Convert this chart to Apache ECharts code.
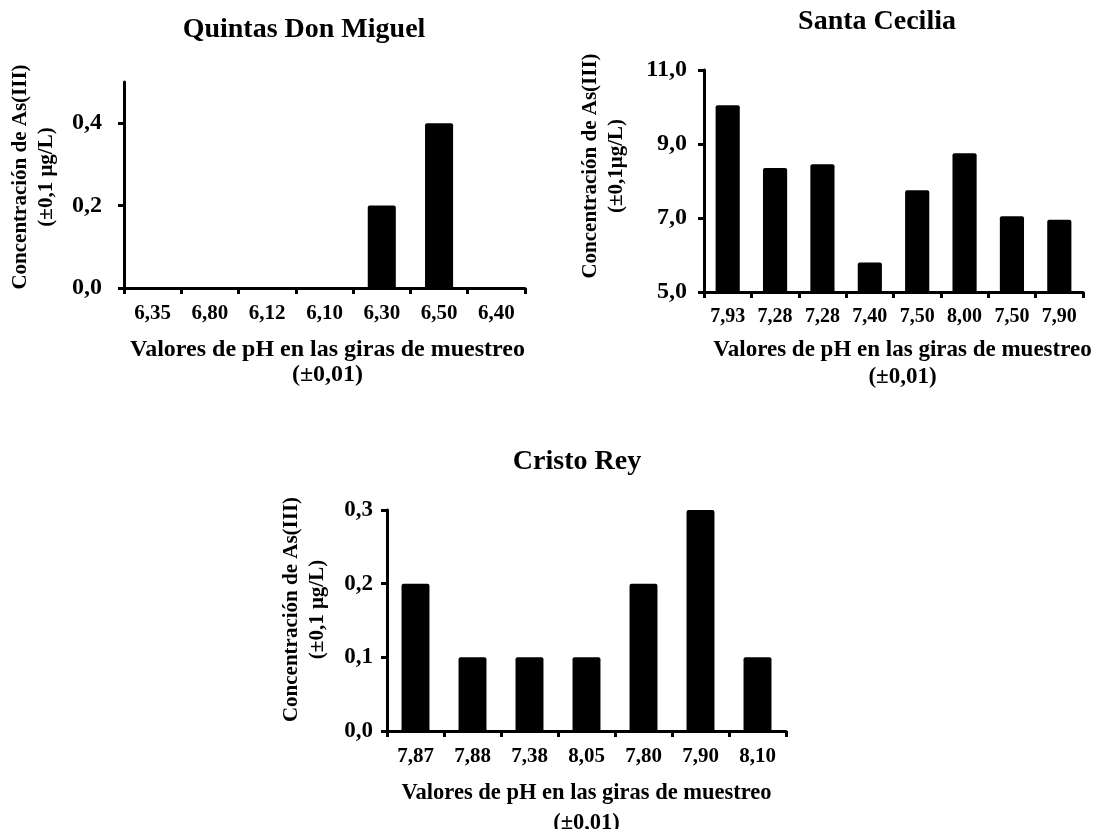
<!DOCTYPE html>
<html>
<head>
<meta charset="utf-8">
<script src="https://cdn.jsdelivr.net/npm/echarts@6/dist/echarts.min.js"></script>
<style>
  html, body { margin: 0; padding: 0; background: #fff; }
  #chart { width: 1114px; height: 829px; }
</style>
</head>
<body>
<div id="chart"></div>
<script>
// pH of each sampling trip (category labels) and As(III) concentration per site
const quintasPH = ['6,35', '6,80', '6,12', '6,10', '6,30', '6,50', '6,40'];
const quintasAs = [0, 0, 0, 0, 0.2, 0.4, 0];
const quintasTicks = [0, 0.2, 0.4];

const ceciliaPH = ['7,93', '7,28', '7,28', '7,40', '7,50', '8,00', '7,50', '7,90'];
const ceciliaAs = [10.05, 8.35, 8.45, 5.8, 7.75, 8.75, 7.05, 6.95];
const ceciliaTicks = [5, 7, 9, 11];

const cristoPH = ['7,87', '7,88', '7,38', '8,05', '7,80', '7,90', '8,10'];
const cristoAs = [0.2, 0.1, 0.1, 0.1, 0.2, 0.3, 0.1];
const cristoTicks = [0, 0.1, 0.2, 0.3];

const titles = ['Quintas Don Miguel', 'Santa Cecilia', 'Cristo Rey'];
const xName = 'Valores de pH en las giras de muestreo\n(±0,01)';
const yNames = ['Concentración de As(III)\n(±0,1 μg/L)', 'Concentración de As(III)\n(±0,1μg/L)', 'Concentración de As(III)\n(±0,1 μg/L)'];

const FONT = '"Liberation Serif", "Times New Roman", serif';
const comma = v => v.toFixed(1).replace('.', ',');

function xAxis(gridIndex, data, nameGap, nameSize, lineHeight, nameOffset, labelSize) {
  return {
    type: 'category', gridIndex, data,
    name: xName, nameLocation: 'middle', nameGap,
    nameTextStyle: { fontFamily: FONT, fontWeight: 'bold', fontSize: nameSize, color: '#000', lineHeight,
                     padding: [0, 0, 0, nameOffset] },
    axisLine: { lineStyle: { color: '#000', width: 3 } },
    axisTick: { show: true, length: 6, lineStyle: { color: '#000', width: 3 } },
    axisLabel: { interval: 0, hideOverlap: false, fontFamily: FONT, fontWeight: 'bold', fontSize: labelSize,
                 color: '#000', margin: 15 },
    splitLine: { show: false }
  };
}

function yAxis(gridIndex, min, max, ticks, name, nameGap, labelSize, labelMargin, shift) {
  return {
    type: 'value', gridIndex, min, max,
    name, nameLocation: 'middle', nameGap, nameRotate: 90,
    nameTextStyle: { fontFamily: FONT, fontWeight: 'bold', fontSize: 21, color: '#000', lineHeight: 26,
                     padding: [0, 0, 0, shift] },
    axisLine: { show: true, lineStyle: { color: '#000', width: 3 } },
    axisTick: { show: true, length: 6, customValues: ticks, lineStyle: { color: '#000', width: 3 } },
    axisLabel: { customValues: ticks, formatter: comma, fontFamily: FONT, fontWeight: 'bold',
                 fontSize: labelSize, color: '#000', margin: labelMargin },
    splitLine: { show: false }
  };
}

function bars(i, data, gap) {
  return {
    type: 'bar', xAxisIndex: i, yAxisIndex: i, data,
    barCategoryGap: gap,
    itemStyle: { color: '#000', borderRadius: [2, 2, 0, 0] },
    silent: true, animation: false
  };
}

const titleStyle = size => ({ fontFamily: FONT, fontWeight: 'bold', fontSize: size, color: '#000' });

// fixed plot rectangles; outerBounds off so axis names may sit near the page edge
const gridBox = (left, width, top, height) => ({ left, width, top, height, containLabel: false, outerBoundsMode: 'none' });

const chart = echarts.init(document.getElementById('chart'), null, { renderer: 'canvas', width: 1114, height: 829 });
chart.setOption({
  backgroundColor: '#fff',
  animation: false,
  title: [
    { text: titles[0], left: 304, top: 16, textAlign: 'center', padding: 0, textStyle: titleStyle(28) },
    { text: titles[1], left: 877, top: 8, textAlign: 'center', padding: 0, textStyle: titleStyle(28) },
    { text: titles[2], left: 577, top: 448, textAlign: 'center', padding: 0, textStyle: titleStyle(28) }
  ],
  grid: [
    gridBox(124, 401, 82, 206),
    gridBox(704, 379, 70, 222),
    gridBox(387, 399, 510, 221)
  ],
  xAxis: [
    xAxis(0, quintasPH, 49, 24, 25, 6, 21),
    xAxis(1, ceciliaPH, 45, 23, 27, 18, 20),
    xAxis(2, cristoPH, 47, 22.5, 30, 0, 21)
  ],
  yAxis: [
    yAxis(0, 0, 0.5, quintasTicks, yNames[0], 64, 24, 22, 16),
    yAxis(1, 5, 11, ceciliaTicks, yNames[1], 74, 24, 17, 30),
    yAxis(2, 0, 0.3, cristoTicks, yNames[2], 56, 23, 14, 22)
  ],
  series: [
    bars(0, quintasAs, '51%'),
    bars(1, ceciliaAs, '49%'),
    bars(2, cristoAs, '51%')
  ]
});
</script>
</body>
</html>
